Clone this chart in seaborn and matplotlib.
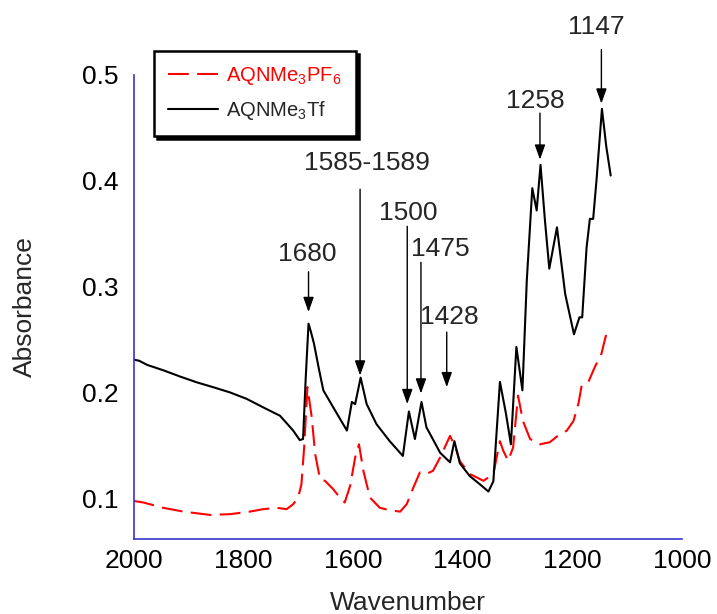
import numpy as np
import pandas as pd
import matplotlib
matplotlib.use('Agg')
import matplotlib.pyplot as plt
from matplotlib.lines import Line2D
import seaborn as sns

# AQNMe3Tf spectrum (black, solid)
tf_wn = [2000, 1990, 1975, 1946, 1915, 1885, 1855, 1824, 1794, 1764, 1733, 1709, 1697,
         1691, 1686, 1681, 1677, 1671, 1662, 1654, 1636, 1611, 1602, 1596, 1586, 1575,
         1557, 1533, 1509, 1498, 1487, 1475, 1466, 1456, 1441, 1423, 1415, 1405, 1387,
         1368, 1353, 1344, 1332, 1321, 1312, 1302, 1291, 1283, 1273, 1265, 1258, 1250,
         1242, 1228, 1213, 1197, 1187, 1182, 1174, 1168, 1162, 1156, 1146, 1138, 1130]
tf_abs = [0.231, 0.230, 0.226, 0.221, 0.215, 0.2096, 0.205, 0.200, 0.194, 0.186, 0.178,
          0.164, 0.155, 0.156, 0.215, 0.265, 0.258, 0.246, 0.222, 0.202, 0.186, 0.164,
          0.191, 0.189, 0.214, 0.189, 0.170, 0.154, 0.140, 0.182, 0.156, 0.191, 0.167,
          0.1575, 0.143, 0.134, 0.154, 0.133, 0.121, 0.113, 0.1064, 0.116, 0.210, 0.180,
          0.151, 0.243, 0.202, 0.306, 0.393, 0.372, 0.415, 0.363, 0.317, 0.356, 0.293,
          0.255, 0.271, 0.271, 0.337, 0.364, 0.364, 0.400, 0.468, 0.432, 0.405]

# AQNMe3PF6 spectrum (red, dashed)
pf6_wn = [2000, 1982, 1946, 1909, 1861, 1824, 1788, 1764, 1739, 1721, 1709, 1700, 1694,
          1689, 1683, 1675, 1669, 1660, 1651, 1636, 1624, 1615, 1605, 1596, 1589, 1581,
          1569, 1551, 1533, 1514, 1502, 1490, 1478, 1466, 1454, 1441, 1423, 1413, 1405,
          1387, 1362, 1344, 1332, 1326, 1317, 1308, 1299, 1290, 1277, 1259, 1241, 1229,
          1210, 1198, 1189, 1183, 1171, 1159, 1147, 1138]
pf6_abs = [0.0975, 0.096, 0.091, 0.0874, 0.0843, 0.085, 0.0874, 0.0897, 0.091, 0.0897,
           0.0944, 0.1007, 0.113, 0.148, 0.205, 0.176, 0.142, 0.118, 0.1165, 0.1086,
           0.1007, 0.096, 0.112, 0.1386, 0.151, 0.126, 0.1007, 0.091, 0.0887, 0.0874,
           0.0944, 0.110, 0.1244, 0.123, 0.126, 0.1386, 0.159, 0.148, 0.135, 0.123,
           0.1165, 0.123, 0.154, 0.145, 0.1355, 0.148, 0.197, 0.173, 0.156, 0.151, 0.153,
           0.158, 0.164, 0.173, 0.189, 0.2065, 0.2096, 0.224, 0.2365, 0.2554]

series_names = ['AQNMe$_3$PF$_6$', 'AQNMe$_3$Tf']

# peak annotations
peak_labels = ['1680', '1585-1589', '1500', '1475', '1428', '1258', '1147']
peak_wn = [1681, 1587, 1501, 1476, 1429, 1259, 1147]
arrow_tip = [0.276, 0.216, 0.189, 0.199, 0.205, 0.420, 0.473]
arrow_tail = [0.314, 0.392, 0.357, 0.323, 0.257, 0.464, 0.524]
label_wn = [1684, 1575, 1500, 1441, 1424, 1267, 1157]
label_abs = [0.331, 0.417, 0.370, 0.336, 0.271, 0.475, 0.545]

df = pd.concat([
    pd.DataFrame({'Wavenumber': pf6_wn, 'Absorbance': pf6_abs, 'sample': series_names[0]}),
    pd.DataFrame({'Wavenumber': tf_wn, 'Absorbance': tf_abs, 'sample': series_names[1]}),
])

sns.set_style('white')
plt.rcParams['font.family'] = ['Liberation Sans', 'DejaVu Sans']
plt.rcParams['mathtext.fontset'] = 'custom'
plt.rcParams['mathtext.rm'] = 'Liberation Sans'
plt.rcParams['mathtext.it'] = 'Liberation Sans:italic'

axis_blue = '#3535d0'

fig = plt.figure(figsize=(7.17, 6.14), dpi=100)
ax = fig.add_axes([0.1863, 0.1221, 0.7649, 0.7558])

palette = {series_names[0]: 'red', series_names[1]: 'black'}
dashes = {series_names[0]: (10, 4), series_names[1]: ''}
sns.lineplot(data=df, x='Wavenumber', y='Absorbance', hue='sample', style='sample',
             palette=palette, dashes=dashes, estimator=None, sort=False,
             linewidth=1.5, legend=False, ax=ax)

ax.set_xlim(2000, 1000)
ax.set_ylim(0.0615, 0.5)
ax.set_xticks([2000, 1800, 1600, 1400, 1200, 1000])
ax.set_yticks([0.1, 0.2, 0.3, 0.4, 0.5])
ax.set_yticks([0.15, 0.25, 0.35, 0.45], minor=True)
ax.set_yticklabels(['0.1', '0.2', '0.3', '0.4', '0.5'])

for side in ['top', 'right']:
    ax.spines[side].set_visible(False)
for side in ['left', 'bottom']:
    ax.spines[side].set_color(axis_blue)
    ax.spines[side].set_linewidth(1.2)

ax.tick_params(axis='both', which='both', direction='in', length=5, width=1.1,
               color=axis_blue, labelsize=19, labelcolor='black')
ax.tick_params(axis='y', pad=11)
ax.tick_params(axis='x', pad=7)

ax.set_xlabel('Wavenumber', fontsize=19, labelpad=13)
ax.set_ylabel('Absorbance', fontsize=19, labelpad=32)

for lab, x, tip, tail, lx, ly in zip(peak_labels, peak_wn, arrow_tip, arrow_tail,
                                     label_wn, label_abs):
    ax.annotate('', xy=(x, tip), xytext=(x, tail), annotation_clip=False,
                arrowprops=dict(arrowstyle='-|>,head_length=0.9,head_width=0.32',
                                color='black', lw=1.0, shrinkA=0, shrinkB=0))
    ax.text(lx, ly, lab, fontsize=19, ha='center', va='center', clip_on=False)

handles = [Line2D([], [], color='red', lw=1.5, dashes=(10, 4)),
           Line2D([], [], color='black', lw=1.5)]
leg = ax.legend(handles, series_names, loc='upper left',
                bbox_to_anchor=(154 / 717, 1 - 51 / 614), bbox_transform=fig.transFigure,
                borderaxespad=0, fontsize=14.5, frameon=True, fancybox=False,
                shadow={'color': 'black', 'alpha': 1}, handlelength=2.5,
                handletextpad=0.4, borderpad=0.7, labelspacing=0.6)
leg.get_frame().set_edgecolor('black')
leg.get_frame().set_linewidth(1.8)
leg.get_texts()[0].set_color('red')

fig.savefig('out.png', dpi=100)
